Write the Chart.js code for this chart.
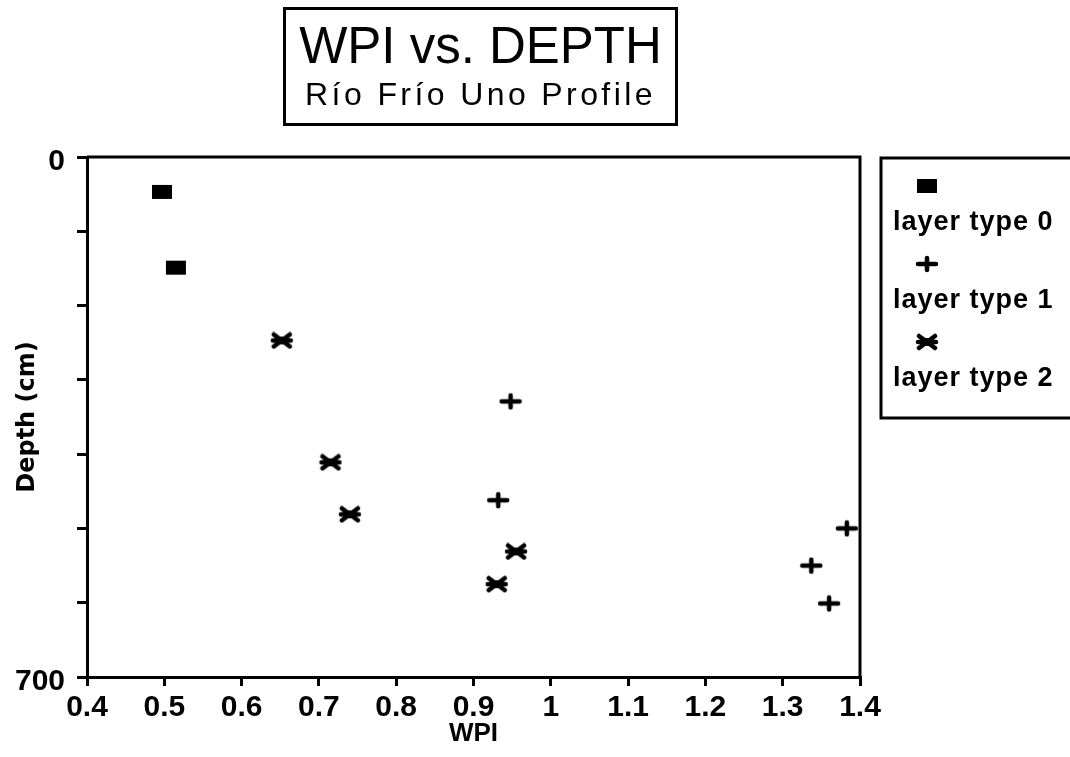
<!DOCTYPE html>
<html>
<head>
<meta charset="utf-8">
<script src="https://cdn.jsdelivr.net/npm/chart.js@4.4.1/dist/chart.umd.min.js"></script>
<style>
  html, body { margin: 0; padding: 0; background: #fff; }
  #wrap { position: relative; width: 1070px; height: 757px; overflow: hidden; }
  #chart { position: absolute; left: 0; top: 0; }
  #titleBox {
    position: absolute; left: 283px; top: 7px; width: 389px; height: 113px;
    border: 3px solid #000; text-align: center; color: #000;
    font-family: "Liberation Sans", Arial, sans-serif;
  }
  #titleBox .main { font-size: 51px; line-height: 51px; margin-top: 10px; letter-spacing: 0px; }
  #titleBox .sub { font-size: 32px; line-height: 32px; margin-top: 7px; letter-spacing: 3.4px; }
</style>
</head>
<body>
<div id="wrap">
  <canvas id="chart" width="1070" height="757"></canvas>
  <div id="titleBox">
    <div class="main" id="mainTitle"></div>
    <div class="sub" id="subTitle"></div>
  </div>
</div>
<script>
// Chart text
const mainTitle = "WPI vs. DEPTH";
const subTitle = "Río Frío Uno Profile";
const xAxisTitle = "WPI";
const yAxisTitle = "Depth (cm)";

// Series: WPI value and depth (cm) for each sample
const layerLabels = ["layer type 0", "layer type 1", "layer type 2"];
const type0Wpi   = [0.497, 0.515];
const type0Depth = [47, 149];
const type1Wpi   = [0.948, 0.932, 1.383, 1.337, 1.360];
const type1Depth = [329, 462, 500, 550, 601];
const type2Wpi   = [0.652, 0.715, 0.740, 0.955, 0.930];
const type2Depth = [247, 411, 481, 531, 575];

// Axis ranges and labelled depth ticks
const xMin = 0.4, xMax = 1.4, xStep = 0.1;
const yMin = 0, yMax = 700, yStep = 100;
const yLabelled = [0, 700];

document.getElementById("mainTitle").textContent = mainTitle;
document.getElementById("subTitle").textContent = subTitle;

// Marker glyphs drawn onto small canvases
function glyph(kind) {
  const c = document.createElement("canvas");
  c.width = 24; c.height = 18;
  const g = c.getContext("2d");
  g.fillStyle = "#000"; g.strokeStyle = "#000";
  g.lineCap = "round"; g.lineWidth = 4;
  const cx = 12, cy = 9;
  if (kind === "square") {
    g.fillRect(cx - 10, cy - 7, 20, 14);
  } else if (kind === "plus") {
    g.lineWidth = 4.5;
    g.beginPath();
    g.moveTo(cx - 9, cy); g.lineTo(cx + 9, cy);
    g.moveTo(cx, cy - 6); g.lineTo(cx, cy + 6);
    g.stroke();
  } else {
    g.lineWidth = 4.5;
    g.beginPath();
    g.moveTo(cx - 9, cy); g.lineTo(cx + 9, cy);
    g.moveTo(cx - 8, cy - 6); g.lineTo(cx + 8, cy + 6);
    g.moveTo(cx - 8, cy + 6); g.lineTo(cx + 8, cy - 6);
    g.stroke();
    g.beginPath();
    g.arc(cx, cy, 4, 0, Math.PI * 2);
    g.fill();
  }
  return c;
}
const markers = [glyph("square"), glyph("plus"), glyph("star")];

function pairs(xs, ys) { return xs.map((x, i) => ({ x: x, y: ys[i] })); }

const datasets = [
  { label: layerLabels[0], data: pairs(type0Wpi, type0Depth), pointStyle: markers[0] },
  { label: layerLabels[1], data: pairs(type1Wpi, type1Depth), pointStyle: markers[1] },
  { label: layerLabels[2], data: pairs(type2Wpi, type2Depth), pointStyle: markers[2] }
].map(d => Object.assign(d, { showLine: false, pointRadius: 10, borderColor: "#000", backgroundColor: "#000" }));

// Frame around the plotting area
const framePlugin = {
  id: "frame",
  afterDraw(chart) {
    const a = chart.chartArea, g = chart.ctx;
    g.save();
    g.strokeStyle = "#000"; g.lineWidth = 3;
    g.beginPath();
    g.moveTo(a.left, a.top); g.lineTo(a.right, a.top); g.lineTo(a.right, a.bottom);
    g.stroke();
    g.restore();
  }
};

// Boxed legend on the right: marker above each label
const legendPlugin = {
  id: "boxLegend",
  afterDraw(chart) {
    const g = chart.ctx;
    const bx = 881, by = 158, bw = 200, bh = 260;
    g.save();
    g.strokeStyle = "#000"; g.lineWidth = 3;
    g.strokeRect(bx, by, bw, bh);
    g.fillStyle = "#000";
    g.font = "bold 27px 'Liberation Sans', Arial, sans-serif";
    g.textBaseline = "middle";
    g.textAlign = "left";
    chart.data.datasets.forEach((ds, i) => {
      const my = 186 + i * 78;
      const img = ds.pointStyle;
      g.drawImage(img, 927 - img.width / 2, my - img.height / 2);
      if (g.letterSpacing !== undefined) g.letterSpacing = "1px";
      g.fillText(ds.label, 893, my + 37);
    });
    g.restore();
  }
};

const tickFont = { family: "'Liberation Sans', Arial, sans-serif", size: 30, weight: "bold" };

new Chart(document.getElementById("chart"), {
  type: "scatter",
  data: { datasets: datasets },
  options: {
    responsive: false,
    animation: false,
    events: [],
    layout: { padding: { left: 0, top: 157, right: 210, bottom: 0 } },
    plugins: { legend: { display: false }, tooltip: { enabled: false }, title: { display: false } },
    scales: {
      x: {
        type: "linear", min: xMin, max: xMax,
        afterFit(s) { s.height = 80; },
        ticks: {
          stepSize: xStep, color: "#000", font: tickFont, padding: 4, maxRotation: 0,
          callback: v => Number(v.toFixed(1)).toString()
        },
        grid: { drawOnChartArea: false, drawTicks: true, tickLength: 9, color: "#000", lineWidth: 3 },
        border: { display: true, color: "#000", width: 3 },
        title: {
          display: true, text: xAxisTitle, color: "#000",
          font: { family: "'Liberation Sans', Arial, sans-serif", size: 26, weight: "bold" },
          padding: { top: 0, bottom: 8 }
        }
      },
      y: {
        type: "linear", reverse: true, min: yMin, max: yMax,
        afterFit(s) { s.width = 87; },
        ticks: {
          stepSize: yStep, color: "#000", font: tickFont, padding: 12, labelOffset: 5,
          callback: v => (yLabelled.includes(v) ? String(v) : "")
        },
        grid: { drawOnChartArea: false, drawTicks: true, tickLength: 10, color: "#000", lineWidth: 3 },
        border: { display: true, color: "#000", width: 3 },
        title: {
          display: true, text: yAxisTitle, color: "#000",
          font: { family: "'DejaVu Sans', 'Liberation Sans', sans-serif", size: 24, weight: "bold" },
          padding: { top: 13, bottom: 0 }
        }
      }
    }
  },
  plugins: [framePlugin, legendPlugin]
});
</script>
</body>
</html>
